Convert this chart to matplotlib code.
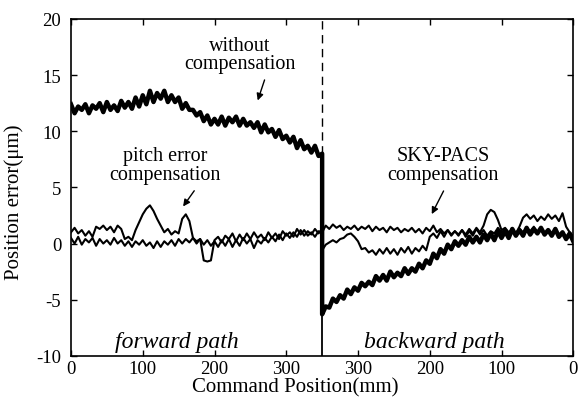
import numpy as np
import matplotlib
matplotlib.use("Agg")
import matplotlib.pyplot as plt

plt.rcParams['font.family'] = ['Liberation Serif', 'DejaVu Serif']
plt.rcParams['axes.unicode_minus'] = False

# forward path: command position 0..350 mm, step 5
fwd_pos = np.arange(0, 351, 5)
fwd_without = [12.4, 11.6, 12.2, 11.9, 12.4, 11.6, 12.3, 12.0, 12.5, 11.7,
               12.6, 11.9, 12.3, 11.8, 12.7, 12.1, 12.6, 12.0, 13.0, 12.2,
               13.2, 12.4, 13.6, 12.6, 13.4, 12.9, 13.6, 12.6, 13.2, 12.6,
               13.0, 12.0, 12.5, 11.9, 11.9, 11.4, 11.7, 10.9, 11.4, 10.6,
               11.1, 10.6, 11.3, 10.5, 11.2, 10.8, 11.3, 10.5, 11.1, 10.5,
               10.8, 10.3, 10.8, 9.9, 10.6, 9.9, 10.2, 9.5, 10.1, 9.3,
               9.6, 9.0, 9.5, 8.5, 9.2, 8.4, 8.7, 8.1, 8.7, 7.8, 8.0]
fwd_pitch = [1.0, 1.4, 0.9, 1.2, 0.7, 1.1, 0.6, 1.5, 1.3, 1.6,
             1.2, 1.5, 1.0, 1.6, 1.3, 0.4, 0.6, 0.3, 1.2, 1.9,
             2.6, 3.1, 3.4, 2.9, 2.2, 1.6, 1.0, 1.3, 0.8, 1.1,
             0.9, 2.2, 2.6, 2.0, 0.5, 0.2, 0.4, -1.5, -1.6, -1.5,
             0.3, 0.6, 0.1, 0.7, 0.4, 0.9, 0.2, 0.8, 0.3, 0.9,
             0.4, 1.0, 0.5, 0.8, 0.3, 1.0, 0.5, 0.9, 0.4, 1.1,
             0.7, 1.0, 0.6, 1.3, 0.8, 1.2, 0.7, 1.0, 0.6, 1.1, 0.9]
fwd_sky = [0.5, 0.0, 0.6, -0.1, 0.4, 0.1, 0.5, -0.2, 0.4, 0.0,
           0.3, -0.1, 0.5, 0.0, 0.3, -0.2, 0.2, -0.3, 0.2, -0.1,
           0.3, -0.2, 0.1, -0.4, 0.2, -0.3, 0.2, -0.1, 0.3, -0.2,
           0.4, 0.0, 0.4, 0.1, 0.5, 0.0, 0.4, -0.1, 0.3, -0.2,
           0.2, -0.3, 0.3, -0.2, 0.4, -0.3, 0.3, -0.2, 0.5, 0.0,
           0.4, -0.4, 0.3, 0.0, 0.5, 0.1, 0.6, 0.2, 0.8, 0.3,
           0.9, 0.5, 1.0, 0.6, 1.2, 0.7, 1.1, 0.8, 1.3, 0.9, 1.3]

# backward path: command position 350..0 mm, step 5
bwd_pos = np.arange(350, -1, -5)
bwd_without = [-6.3, -5.6, -5.7, -4.9, -5.2, -4.6, -4.9, -4.1, -4.5, -3.9,
               -4.2, -3.5, -3.8, -3.4, -3.7, -2.9, -3.3, -2.8, -3.3, -2.5,
               -3.0, -2.6, -2.9, -2.2, -2.7, -2.2, -2.5, -1.8, -2.2, -1.5,
               -1.8, -0.9, -1.3, -0.5, -0.9, -0.1, -0.5, 0.2, -0.2, 0.3,
               -0.1, 0.6, 0.1, 0.6, 0.1, 0.8, 0.3, 0.9, 0.3, 1.1,
               0.5, 1.1, 0.5, 1.3, 0.7, 1.2, 0.7, 1.4, 0.8, 1.3,
               0.9, 1.4, 0.8, 1.2, 0.7, 1.3, 0.6, 1.0, 0.4, 0.9, 0.2]
bwd_pitch = [-0.6, -0.1, 0.1, 0.3, 0.1, 0.4, 0.5, 0.8, 0.9, 0.6,
             0.2, -0.5, -0.4, -0.8, -0.6, -1.0, -0.5, -0.9, -0.4, -0.9,
             -0.5, -1.0, -0.4, -0.8, -0.3, -0.9, -0.4, -0.7, -0.2, -0.6,
             0.6, 0.9, 0.5, 1.1, 0.6, 1.2, 0.8, 1.1, 0.7, 1.2,
             0.8, 1.3, 0.9, 1.4, 1.0, 1.6, 2.6, 3.0, 2.8, 2.1,
             1.2, 1.4, 1.0, 1.3, 0.9, 1.5, 2.3, 2.6, 2.2, 2.5,
             2.0, 2.4, 2.1, 2.6, 2.2, 2.5, 2.0, 2.7, 1.5, 1.0, 0.6]
bwd_sky = [1.0, 1.6, 1.3, 1.7, 1.4, 1.6, 1.2, 1.5, 1.3, 1.6,
           1.2, 1.5, 1.3, 1.6, 1.1, 1.5, 1.2, 1.4, 1.0, 1.5,
           1.2, 1.4, 1.0, 1.3, 1.1, 1.4, 1.0, 1.3, 0.9, 1.4,
           1.1, 1.6, 1.0, 1.3, 0.9, 1.2, 0.7, 1.1, 0.8, 1.2,
           0.6, 1.1, 0.7, 1.3, 0.8, 1.2, 0.7, 1.1, 0.9, 1.4,
           1.0, 1.3, 0.9, 1.2, 0.8, 1.3, 1.0, 1.4, 1.1, 1.5,
           1.0, 1.3, 0.9, 1.2, 0.8, 1.1, 0.7, 1.0, 0.6, 0.9, 0.4]

xtick_pos = [0, 100, 200, 300, 400, 500, 600, 700]
xtick_labels = ['0', '100', '200', '300', '300', '200', '100', '0']
ytick_pos = [-10, -5, 0, 5, 10, 15, 20]

for arr in (fwd_without, fwd_pitch, fwd_sky, bwd_without, bwd_pitch, bwd_sky):
    assert len(arr) == 71, len(arr)

fig = plt.figure(figsize=(5.8, 4.06), dpi=100)
ax = fig.add_axes([0.1224, 0.121, 0.866, 0.830])

turn = 350
x_f = fwd_pos
x_b = 2 * turn - bwd_pos

def joined(f, b):
    return np.concatenate([x_f, x_b]), np.concatenate([f, b])

xx, yy = joined(fwd_sky, bwd_sky)
ax.plot(xx, yy, color='black', lw=1.5)
xx, yy = joined(fwd_pitch, bwd_pitch)
ax.plot(xx, yy, color='black', lw=1.5)
xx, yy = joined(fwd_without, bwd_without)
ax.plot(xx, yy, color='black', lw=3.2)

# turning point line
ax.plot([turn, turn], [fwd_without[-1], 20], color='black', lw=1.0,
        linestyle=(0, (6, 4)))
ax.plot([turn, turn], [-10, fwd_without[-1]], color='black', lw=1.3)

ax.set_xlim(0, 700)
ax.set_ylim(-10, 20)
ax.set_xticks(xtick_pos)
ax.set_xticklabels(xtick_labels)
ax.set_yticks(ytick_pos)
ax.tick_params(direction='in', length=4, width=1, top=True, right=True,
               labelsize=13.5)
ax.tick_params(axis='x', pad=3)
ax.tick_params(axis='y', pad=7)
for s in ax.spines.values():
    s.set_linewidth(1.2)

ax.set_xlabel('Command Position(mm)', fontsize=15)
ax.xaxis.set_label_coords(0.447, -0.064)
ax.set_ylabel('Position error(\u03bcm)', fontsize=15)
ax.yaxis.set_label_coords(-0.094, 0.46)

fs = 14.5
ax.text(235, 16.8, 'without\ncompensation', ha='center', va='center',
        fontsize=fs, linespacing=0.95)
ax.annotate('', xy=(259, 12.5), xytext=(271, 14.8),
            arrowprops=dict(arrowstyle='-|>', color='black', lw=1,
                            mutation_scale=10))
ax.text(131, 7.0, 'pitch error\ncompensation', ha='center', va='center',
        fontsize=fs, linespacing=0.95)
ax.annotate('', xy=(154, 3.1), xytext=(174, 4.9),
            arrowprops=dict(arrowstyle='-|>', color='black', lw=1,
                            mutation_scale=10))
ax.text(519, 7.0, 'SKY-PACS\ncompensation', ha='center', va='center',
        fontsize=fs, linespacing=0.95)
ax.annotate('', xy=(501, 2.4), xytext=(521, 4.9),
            arrowprops=dict(arrowstyle='-|>', color='black', lw=1,
                            mutation_scale=10))
ax.text(148, -8.7, 'forward path', ha='center', va='center',
        fontsize=17, style='italic')
ax.text(507, -8.7, 'backward path', ha='center', va='center',
        fontsize=17, style='italic')

fig.savefig('out.png', dpi=100)
